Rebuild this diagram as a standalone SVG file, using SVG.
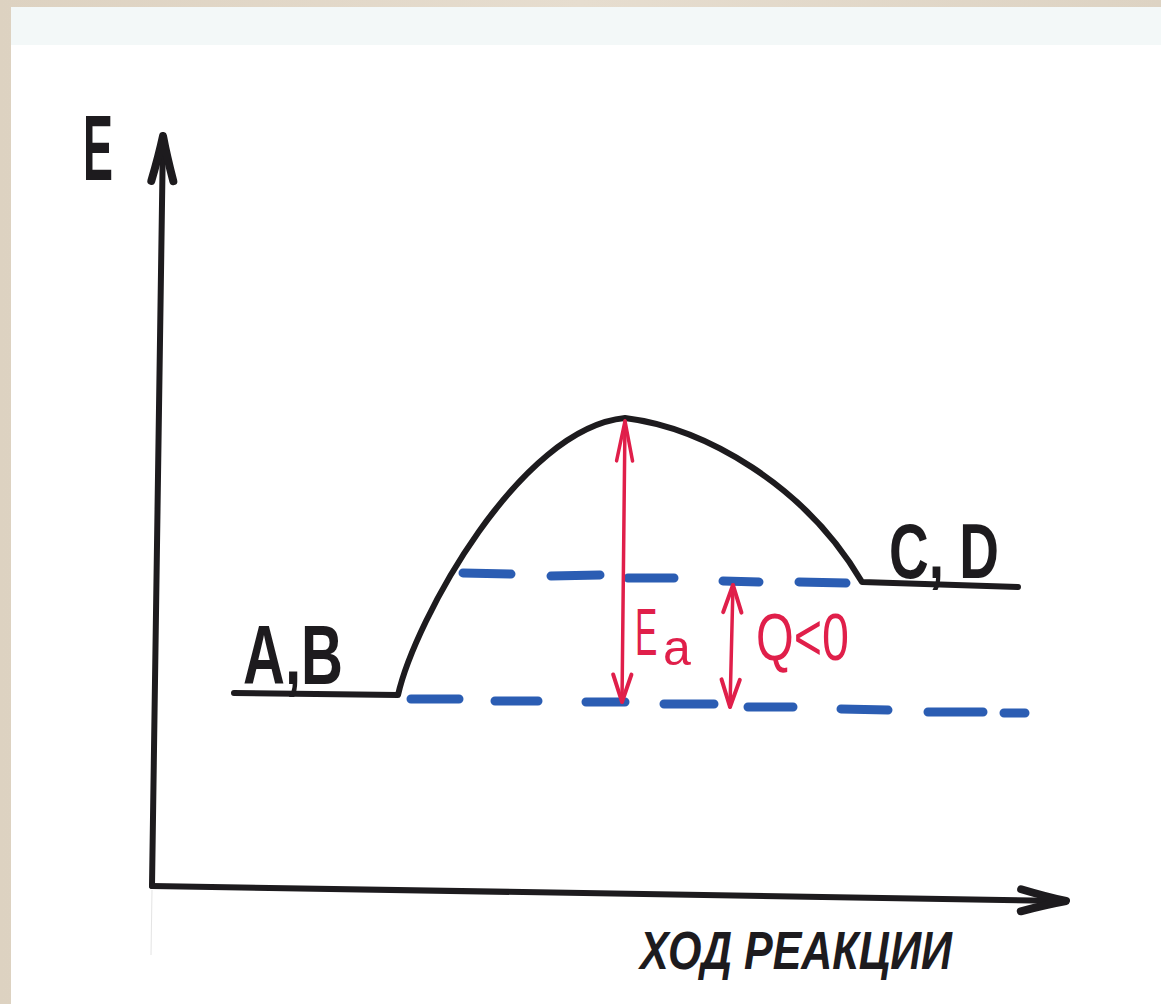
<svg xmlns="http://www.w3.org/2000/svg" width="1161" height="1004" viewBox="0 0 1161 1004">
<defs>
<style>
.ink{fill:none;stroke:#1d1b1e;stroke-width:6;stroke-linecap:round;stroke-linejoin:round}
.lvl{fill:none;stroke:#2b5db3;stroke-width:9;stroke-linecap:round}
.red{fill:none;stroke:#e01f4a;stroke-width:3.5;stroke-linecap:round}
.lbl{font-family:"Liberation Sans","DejaVu Sans",sans-serif;fill:#1d1b1e;font-weight:bold}
.rlbl{font-family:"Liberation Sans","DejaVu Sans",sans-serif;fill:#e01f4a}
</style>
<marker id="axhead" markerUnits="userSpaceOnUse" markerWidth="60" markerHeight="40" viewBox="-50 -15 60 30" refX="0" refY="0" orient="auto" overflow="visible">
<path d="M-45,-11 Q-20,-4 0,0 Q-20,4 -45,11" fill="none" stroke="#1d1b1e" stroke-width="8" stroke-linecap="round" stroke-linejoin="round"/>
</marker>
<marker id="rhead" markerUnits="userSpaceOnUse" markerWidth="50" markerHeight="30" viewBox="-45 -12 50 24" refX="0" refY="0" orient="auto-start-reverse" overflow="visible">
<path d="M-40,-8 L0,0 L-40,8" fill="none" stroke="#e01f4a" stroke-width="3.5" stroke-linecap="round" stroke-linejoin="round"/>
</marker>
<marker id="rheadS" markerUnits="userSpaceOnUse" markerWidth="40" markerHeight="30" viewBox="-30 -12 35 24" refX="0" refY="0" orient="auto-start-reverse" overflow="visible">
<path d="M-24,-8 L0,0 L-24,8" fill="none" stroke="#e01f4a" stroke-width="3.5" stroke-linecap="round" stroke-linejoin="round"/>
</marker>
<linearGradient id="bg" x1="0" y1="0" x2="1" y2="0">
<stop offset="0" stop-color="#ddd2c1"/><stop offset="0.5" stop-color="#e6ddcf"/><stop offset="1" stop-color="#ddd3c3"/>
</linearGradient>
</defs>
<rect x="0" y="0" width="1161" height="1004" fill="url(#bg)"/>
<rect x="11" y="7" width="1150" height="997" fill="#ffffff"/>
<rect x="11" y="7" width="1150" height="38" fill="#f3f8f8"/>
<line x1="152" y1="890" x2="151" y2="955" stroke="#e4e4e4" stroke-width="1"/>

<g id="connectors">
<g id="axes">
<path id="y-axis" class="ink" d="M152,886 L163,136" marker-end="url(#axhead)"/>
<path id="x-axis" class="ink" d="M152,886 L1066,901" marker-end="url(#axhead)"/>
</g>
<path id="energy-curve" class="ink" d="M234,693 L398,695 C415,620 520,428 625,418 C705,428 805,485 862,582 L1018,587"/>
<g id="levels">
<path class="lvl" d="M463,573 L511,574 M551,576 L600,575 M628,578 L674,578 M723,581 L759,582 M799,582 L846,583"/>
<path class="lvl" d="M411,699 L459,699 M495,701 L538,701 M586,702 L625,702 M664,704 L714,704 M748,707 L793,707 M841,709 L888,710 M928,712 L983,712 M1004,713 L1025,713"/>
</g>
<g id="arrows">
<path id="ea-arrow" class="red" d="M625,421 L622,702" marker-start="url(#rhead)" marker-end="url(#rheadS)"/>
<path id="q-arrow" class="red" d="M733,585 L730,707" marker-start="url(#rheadS)" marker-end="url(#rheadS)"/>
</g>
</g>

<g id="label-E"><text class="lbl" x="83" y="180" font-size="93" textLength="30" lengthAdjust="spacingAndGlyphs">E</text></g>
<g id="node-AB"><text class="lbl" x="243" y="684" font-size="84" textLength="100" lengthAdjust="spacingAndGlyphs">A,B</text></g>
<g id="node-CD"><text class="lbl" x="889" y="578" font-size="77" textLength="110" lengthAdjust="spacingAndGlyphs">C, D</text></g>
<g id="label-Ea">
<text class="rlbl" x="0" y="0" font-size="67" transform="translate(635,655) scale(0.5,1)">E</text>
<text class="rlbl" x="0" y="0" font-size="50" transform="translate(663,665)">a</text>
</g>
<g id="label-Q"><text class="rlbl" x="756" y="660" font-size="66" textLength="93" lengthAdjust="spacingAndGlyphs">Q&lt;0</text></g>
<g id="label-x"><text class="lbl" x="640" y="969" font-size="53" font-style="italic" textLength="312" lengthAdjust="spacingAndGlyphs">ХОД РЕАКЦИИ</text></g>
</svg>
